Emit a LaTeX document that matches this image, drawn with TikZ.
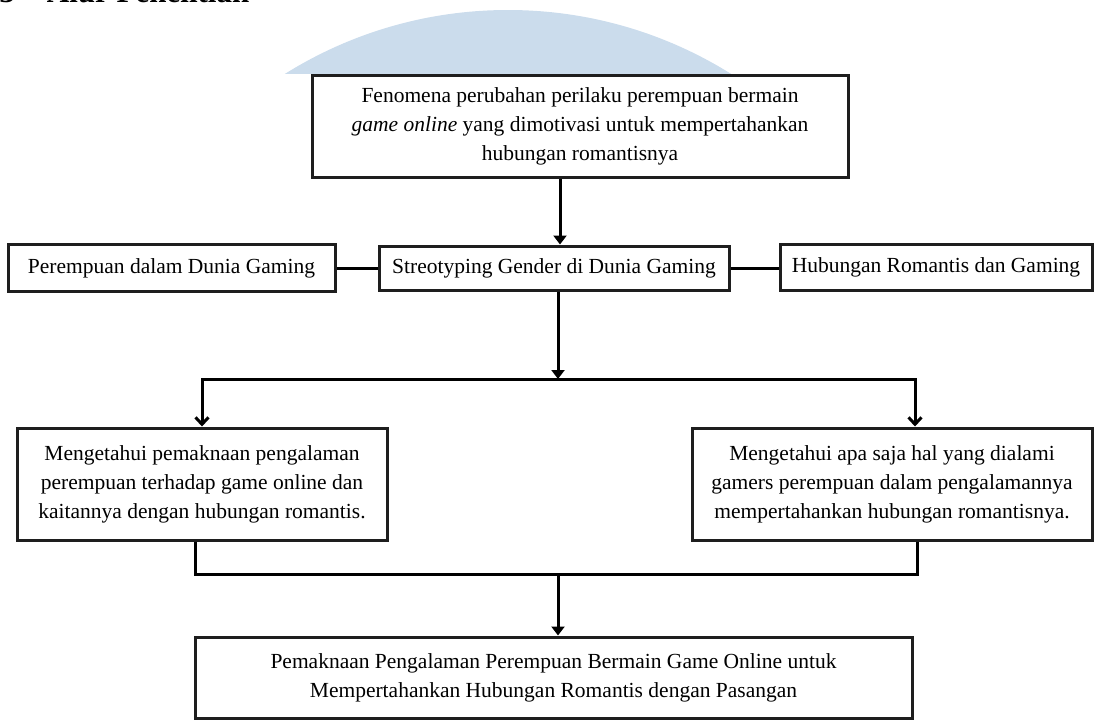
\documentclass[tikz,border=0pt]{standalone}
\usepackage{fontspec}
\setmainfont{Liberation Serif}
\usetikzlibrary{arrows.meta,calc}
\definecolor{wmblue}{RGB}{203,220,236}
\definecolor{edge}{RGB}{30,30,30}
\begin{document}
\begin{tikzpicture}[x=1pt,y=-1pt,
  box/.style={draw=edge,line width=3pt,fill=white,align=center,inner sep=0pt,
    font=\fontsize{21.5}{29}\selectfont},
  conn/.style={draw=black,line width=3pt},
  arr/.style={conn,-{Triangle[width=13pt,length=9pt]}},
  arrb/.style={conn,-{Straight Barb[width=13pt,length=7pt]}}]
\useasboundingbox (0,0) rectangle (1101,720);
% watermark
\begin{scope}
  \clip (0,0) rectangle (1101,73);
  \fill[wmblue] (508,431) circle (421);
\end{scope}
% cropped heading
\node[anchor=base west,inner sep=0pt,font=\bfseries\fontsize{31}{31}\selectfont] (title) at (-24,2.5) {2.3\hspace{32pt}Alur Penelitian};
% boxes
\node[box,minimum width=536,minimum height=102] (top) at (580,126)
  {Fenomena perubahan perilaku perempuan bermain\\\textit{game online} yang dimotivasi untuk mempertahankan\\hubungan romantisnya};
\node[box,minimum width=327,minimum height=47] (left) at (171.5,268) {Perempuan dalam Dunia Gaming};
\node[box,minimum width=350,minimum height=44] (mid) at (554,268) {Streotyping Gender di Dunia Gaming};
\node[box,minimum width=312,minimum height=46] (right) at (936,267) {Hubungan Romantis dan Gaming};
\node[box,minimum width=370,minimum height=112] (bl) at (202,484)
  {Mengetahui pemaknaan pengalaman\\perempuan terhadap game online dan\\kaitannya dengan hubungan romantis.};
\node[box,minimum width=400,minimum height=112] (br) at (892,484)
  {Mengetahui apa saja hal yang dialami\\gamers perempuan dalam pengalamannya\\mempertahankan hubungan romantisnya.};
\node[box,minimum width=717,minimum height=81] (bottom) at (553.5,677.5)
  {Pemaknaan Pengalaman Perempuan Bermain Game Online untuk\\Mempertahankan Hubungan Romantis dengan Pasangan};
% connectors
\coordinate (split) at (558,379);
\coordinate (join) at (558,574);
\draw[arr] ([xshift=-20pt]top.south) -- ([xshift=-20pt]top.south |- mid.north);
\draw[conn] (left.east) -- (mid.west);
\draw[conn] (mid.east) -- (mid.east -| right.west);
\draw[arr] (mid.south -| split) -- (split);
\draw[arrb] (split) -| (bl.north);
\draw[arrb] (split) -| ([xshift=23pt]br.north);
\draw[conn] ([xshift=-7pt]bl.south) |- (join) -| ([xshift=25pt]br.south);
\draw[arr] (join) -- (join |- bottom.north);
\end{tikzpicture}
\end{document}
